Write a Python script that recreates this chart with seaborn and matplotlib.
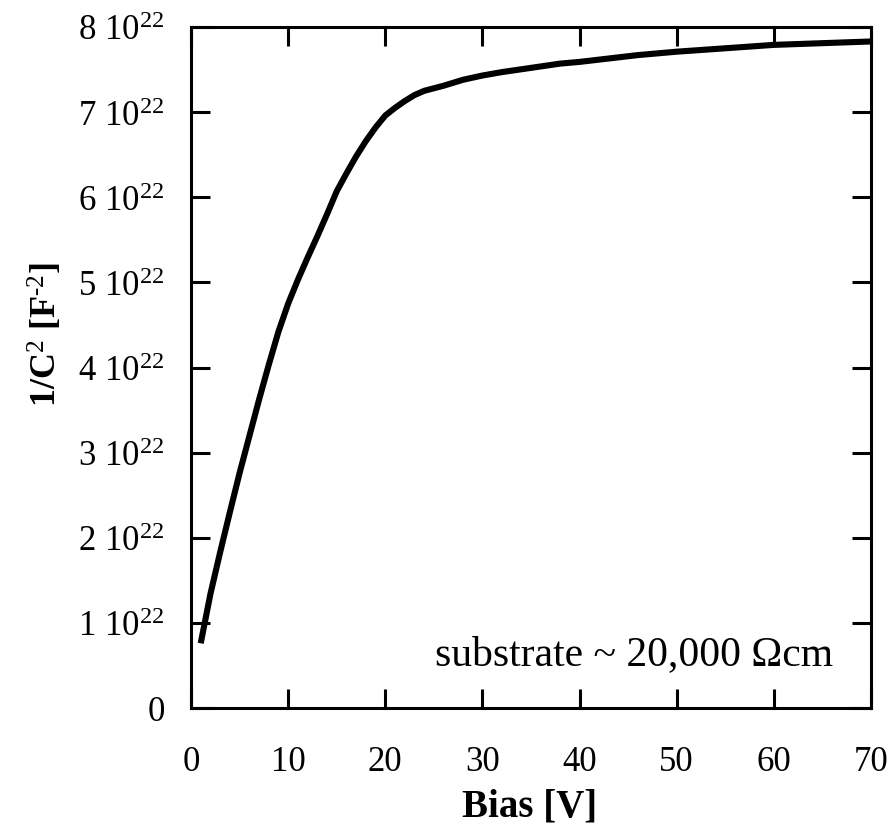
import matplotlib
matplotlib.use("Agg")
import matplotlib.pyplot as plt
import seaborn as sns
import pandas as pd
from matplotlib.ticker import FixedLocator, FuncFormatter

# Bias voltage [V] and measured 1/C^2 [F^-2]
bias = [1, 2, 3, 4, 5, 6, 7, 8, 9, 10, 11, 12, 13, 14, 15, 16, 17, 18, 19,
        20, 21, 22, 23, 24, 26, 28, 30, 32, 35, 38, 40, 43, 46, 50, 55, 60, 65, 70]
inv_c2 = [0.76e22, 1.34e22, 1.83e22, 2.30e22, 2.76e22, 3.19e22, 3.62e22, 4.03e22,
          4.42e22, 4.75e22, 5.03e22, 5.29e22, 5.54e22, 5.80e22, 6.07e22, 6.28e22,
          6.48e22, 6.66e22, 6.82e22, 6.96e22, 7.05e22, 7.13e22, 7.20e22, 7.25e22,
          7.31e22, 7.38e22, 7.43e22, 7.47e22, 7.52e22, 7.57e22, 7.59e22, 7.63e22,
          7.67e22, 7.71e22, 7.75e22, 7.79e22, 7.81e22, 7.83e22]

x_ticks = [0, 10, 20, 30, 40, 50, 60, 70]
y_ticks = [0, 1e22, 2e22, 3e22, 4e22, 5e22, 6e22, 7e22, 8e22]

sns.set_style("ticks")
plt.rcParams["font.family"] = ["Liberation Serif", "DejaVu Serif"]
plt.rcParams["mathtext.fontset"] = "custom"
plt.rcParams["mathtext.rm"] = "Liberation Serif"
plt.rcParams["mathtext.it"] = "Liberation Serif:italic"
plt.rcParams["mathtext.bf"] = "Liberation Serif:bold"
plt.rcParams["text.color"] = "black"
plt.rcParams["xtick.color"] = "black"
plt.rcParams["ytick.color"] = "black"
plt.rcParams["axes.labelcolor"] = "black"

df = pd.DataFrame({"bias": bias, "inv_c2": inv_c2})

fig = plt.figure(figsize=(8.92, 8.29), dpi=100)
ax = fig.add_axes([191 / 892, (829 - 709) / 829, 680 / 892, 681 / 829])

sns.lineplot(data=df, x="bias", y="inv_c2", ax=ax, color="black",
             linewidth=4.4, solid_capstyle="butt")

ax.set_xlim(0, 70)
ax.set_ylim(0, 8e22)
ax.xaxis.set_major_locator(FixedLocator(x_ticks))
ax.yaxis.set_major_locator(FixedLocator(y_ticks))


def y_fmt(v, pos):
    k = int(round(v / 1e22))
    return "0" if k == 0 else rf"{k} 10$^{{\mathrm{{22}}}}$"


ax.yaxis.set_major_formatter(FuncFormatter(y_fmt))
ax.xaxis.set_major_formatter(FuncFormatter(lambda v, p: f"{int(v)}"))

for s in ax.spines.values():
    s.set_visible(True)
    s.set_linewidth(2.2)
    s.set_color("black")

ax.tick_params(axis="both", which="major", direction="in", length=13.5,
               width=2.2, labelsize=25, top=True, right=True,
               color="black", labelcolor="black")
ax.tick_params(axis="y", pad=19)
ax.tick_params(axis="x", pad=27)

ax.set_xlabel("Bias [V]", fontsize=28, fontweight="bold")
ax.xaxis.set_label_coords(0.4985, -0.117)
ax.set_ylabel(r"1/C$^{\mathrm{2}}$ [F$^{\text{-2}}$]", fontsize=26,
              fontweight="bold")
ax.yaxis.set_label_coords(-0.185, 0.549)

ax.text(0.944, 0.0646, "substrate ~ 20,000 \u03a9cm", transform=ax.transAxes,
        ha="right", va="baseline", fontsize=30, color="black")

fig.savefig("out.png", dpi=100)
